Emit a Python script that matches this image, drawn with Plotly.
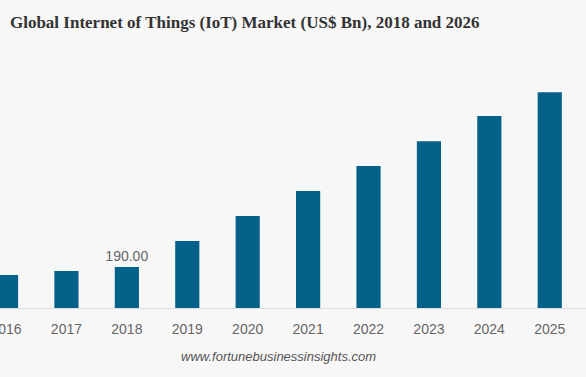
import plotly.graph_objects as go

years = ["2016", "2017", "2018", "2019", "2020", "2021", "2022", "2023", "2024", "2025"]
values = [153, 171, 190, 310, 426, 542, 658, 773, 890, 1000]
labels = ["", "", "190.00", "", "", "", "", "", "", ""]

fig = go.Figure(go.Bar(
    x=years, y=values,
    marker=dict(color="#04628a", line=dict(width=0)),
    width=0.4,
    text=labels, textposition="outside", constraintext="none",
    textfont=dict(family="Liberation Sans, Arial", size=14, color="#666666"),
    cliponaxis=False,
))

fig.update_layout(
    width=586, height=377,
    margin=dict(l=0, r=0, t=60, b=69, autoexpand=False),
    paper_bgcolor="#f7f7f7", plot_bgcolor="#f7f7f7",
    showlegend=False,
    title=dict(
        text="<b>Global Internet of Things (IoT) Market (US$ Bn), 2018 and 2026</b>",
        x=0.017, xanchor="left", y=0.942, yanchor="middle",
        font=dict(family="Liberation Serif, Times New Roman", size=17, color="#333333"),
    ),
    xaxis=dict(
        type="category", range=[-0.1, 9.6], autorange=False, automargin=False,
        showline=True, linecolor="#dddddd", linewidth=1,
        showgrid=False, ticks="outside", ticklen=8, tickcolor="rgba(0,0,0,0)",
        tickfont=dict(family="Liberation Sans, Arial", size=14, color="#666666"),
    ),
    yaxis=dict(range=[0, 1149], autorange=False, automargin=False, visible=False,
               showgrid=False, zeroline=False),
    annotations=[dict(
        text="<i>www.fortunebusinessinsights.com</i>",
        x=0.475, xref="paper", xanchor="center",
        y=0, yref="paper", yanchor="middle", showarrow=False,
        font=dict(family="Liberation Sans, Arial", size=13, color="#555555"),
    )],
)
plot_h = 377 - 60 - 69
fig.layout.annotations[0].y = (377 - 69 - 356) / plot_h

fig.write_html("out.html", config={"displayModeBar": False},
               post_script="document.body.style.margin='0';document.body.style.background='#f7f7f7';")
